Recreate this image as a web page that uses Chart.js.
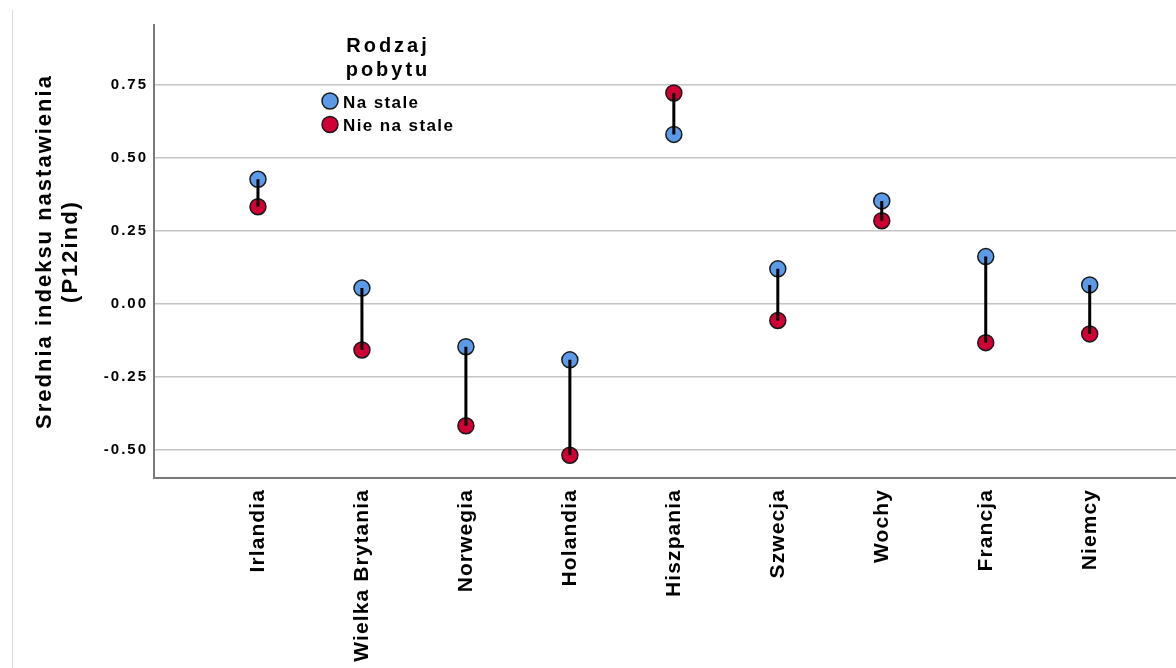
<!DOCTYPE html>
<html>
<head>
<meta charset="utf-8">
<title>Srednia indeksu nastawienia</title>
<script src="https://cdn.jsdelivr.net/npm/chart.js@4.4.1/dist/chart.umd.min.js"></script>
<style>
  body { margin: 0; background: #fff; }
  #wrap { position: relative; width: 1176px; height: 668px; }
  #edge { position: absolute; left: 12px; top: 10px; width: 1px; height: 658px; background: #dcdcdc; }
</style>
</head>
<body>
<div id="wrap">
  <canvas id="chart" width="1176" height="668"></canvas>
  <div id="edge"></div>
</div>
<script>
// countries on the x axis
const countries = ['Irlandia', 'Wielka Brytania', 'Norwegia', 'Holandia', 'Hiszpania', 'Szwecja', 'Wochy', 'Francja', 'Niemcy'];
// mean index values per group
const naStale = [0.426, 0.053, -0.148, -0.193, 0.580, 0.119, 0.352, 0.161, 0.064];
const nieNaStale = [0.332, -0.159, -0.419, -0.520, 0.722, -0.058, 0.284, -0.134, -0.104];
const yTicks = [-0.50, -0.25, 0.00, 0.25, 0.50, 0.75];
const legendTitle = ['Rodzaj', 'pobytu'];
const groupNames = ['Na stale', 'Nie na stale'];

const blue = '#5a9ae6';
const red = '#d10034';

Chart.defaults.font.family = '"Liberation Sans", Arial, sans-serif';
Chart.defaults.color = '#000';

// points for the connecting lines, null breaks them apart
let connectors = [];
for (let i = 0; i < countries.length; i++) {
    connectors.push({x: i + 1, y: naStale[i]});
    connectors.push({x: i + 1, y: nieNaStale[i]});
    connectors.push({x: i + 1, y: null});
}

// SPSS-like text spacing, and the legend inside the plot
const spacingPlugin = {
    id: 'spacing',
    beforeDraw(chart) { chart.ctx.letterSpacing = '2px'; },
    beforeDatasetsDraw(chart) { chart.ctx.letterSpacing = '0px'; },
    afterDatasetsDraw(chart) { chart.ctx.letterSpacing = '1.1px'; },
    afterDraw(chart) {
        const ctx = chart.ctx;
        ctx.save();
        ctx.fillStyle = '#000';
        ctx.textBaseline = 'alphabetic';
        ctx.letterSpacing = '3px';
        ctx.font = 'bold 20px "Liberation Sans", Arial, sans-serif';
        ctx.textAlign = 'center';
        legendTitle.forEach((t, i) => ctx.fillText(t, 388, 52 + i * 24));

        const colors = [blue, red];
        ctx.letterSpacing = '1.4px';
        ctx.font = 'bold 17px "Liberation Sans", Arial, sans-serif';
        ctx.textAlign = 'left';
        groupNames.forEach((name, i) => {
            const cy = 101 + i * 23.5;
            ctx.beginPath();
            ctx.arc(330, cy, 8, 0, Math.PI * 2);
            ctx.fillStyle = colors[i];
            ctx.fill();
            ctx.lineWidth = 1.5;
            ctx.strokeStyle = '#1a1a1a';
            ctx.stroke();
            ctx.fillStyle = '#000';
            ctx.fillText(name, 343, cy + 6.5);
        });
        ctx.restore();
        ctx.letterSpacing = '0px';
    }
};

const ctx = document.getElementById('chart').getContext('2d');
const chart = new Chart(ctx, {
    type: 'scatter',
    data: {
        datasets: [
            {
                type: 'line',
                label: 'connector',
                data: connectors,
                borderColor: '#000',
                borderWidth: 3,
                pointRadius: 0,
                spanGaps: false,
                fill: false,
                order: 0
            },
            {
                label: groupNames[0],
                data: naStale.map((v, i) => ({x: i + 1, y: v})),
                backgroundColor: blue,
                borderColor: '#1a1a1a',
                borderWidth: 1.5,
                pointRadius: 8,
                order: 1
            },
            {
                label: groupNames[1],
                data: nieNaStale.map((v, i) => ({x: i + 1, y: v})),
                backgroundColor: red,
                borderColor: '#1a1a1a',
                borderWidth: 1.5,
                pointRadius: 8,
                order: 2
            }
        ]
    },
    options: {
        responsive: false,
        animation: false,
        devicePixelRatio: 1,
        layout: { autoPadding: false, padding: { top: 25, left: 0, right: 0, bottom: 0 } },
        plugins: {
            legend: { display: false },
            tooltip: { enabled: false }
        },
        scales: {
            x: {
                type: 'linear',
                min: 0,
                max: 9.83,
                afterFit(scale) {
                    scale.height = 190;
                    scale.paddingLeft = 0;
                    scale.paddingRight = 0;
                },
                afterBuildTicks(scale) {
                    scale.ticks = countries.map((c, i) => ({value: i + 1}));
                },
                ticks: {
                    z: 1,
                    autoSkip: false,
                    minRotation: 90,
                    maxRotation: 90,
                    padding: 11,
                    font: { size: 21, weight: 'bold' },
                    callback: (v) => countries[v - 1] || ''
                },
                grid: { display: false, drawTicks: false },
                border: { display: true, color: '#7a7a7a', width: 2 }
            },
            y: {
                min: -0.598,
                max: 0.955,
                afterFit(scale) { scale.width = 154; },
                afterBuildTicks(scale) {
                    scale.ticks = yTicks.map(v => ({value: v}));
                },
                ticks: {
                    padding: 6,
                    font: { size: 15, weight: 'bold' },
                    callback: (v) => v.toFixed(2)
                },
                grid: { color: '#c4c4c4', lineWidth: 1.5, drawTicks: false },
                border: { display: true, color: '#7a7a7a', width: 2 },
                title: {
                    display: true,
                    text: ['Srednia indeksu nastawienia', '(P12ind)'],
                    font: { size: 22, weight: 'bold', lineHeight: 1.18 },
                    padding: { top: 32, bottom: 0 }
                }
            }
        }
    },
    plugins: [spacingPlugin]
});
</script>
</body>
</html>
